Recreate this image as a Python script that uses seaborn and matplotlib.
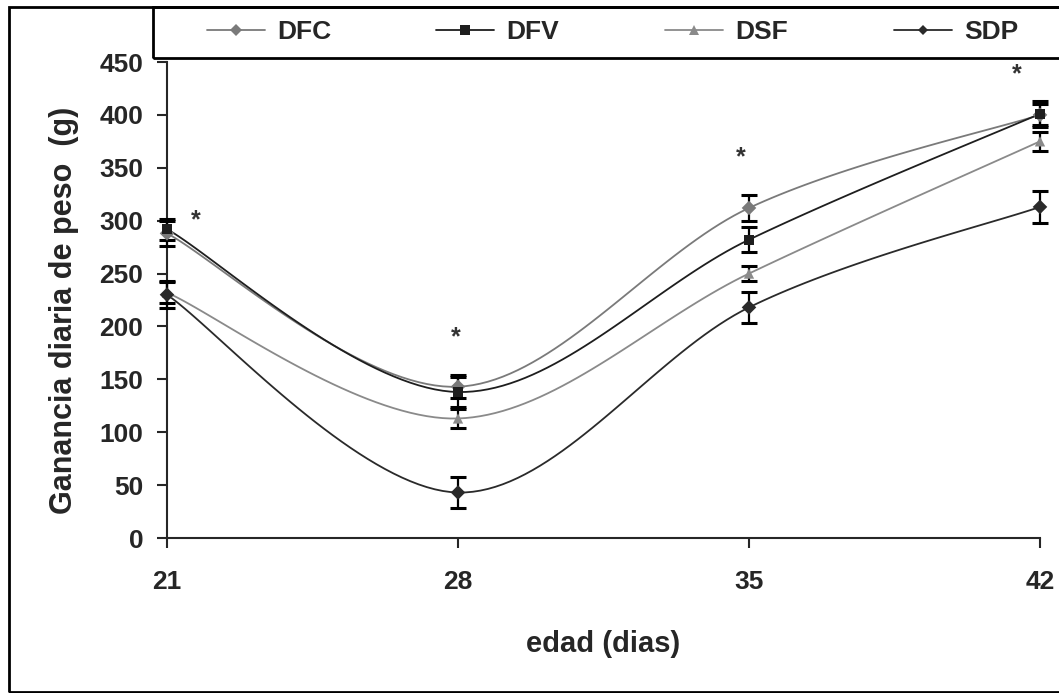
import numpy as np
import pandas as pd
import seaborn as sns
import matplotlib.pyplot as plt
from matplotlib.lines import Line2D
from matplotlib.patches import Rectangle

# data
edad = [21, 28, 35, 42]
grupos = ["DFC", "DFV", "DSF", "SDP"]
dfc = [288, 143, 312, 400]
dfv = [292, 138, 282, 401]
dsf = [232, 113, 250, 375]
sdp = [230, 43, 218, 313]
dfc_err = [12, 11, 12, 10]
dfv_err = [10, 14, 12, 12]
dsf_err = [10, 9, 7, 9]
sdp_err = [13, 15, 15, 15]
star_x = [21.7, 27.95, 34.8, 41.45]
star_y = [300, 190, 360, 438]

colores = {"DFC": "#7a7a7a", "DFV": "#1e1e1e", "DSF": "#8a8a8a", "SDP": "#2a2a2a"}
marcadores = {"DFC": "D", "DFV": "s", "DSF": "^", "SDP": "D"}
tam = {"DFC": 6, "DFV": 7, "DSF": 7, "SDP": 5}

df = pd.DataFrame({
    "edad": edad * 4,
    "grupo": [g for g in grupos for _ in edad],
    "ganancia": dfc + dfv + dsf + sdp,
    "err": dfc_err + dfv_err + dsf_err + sdp_err,
})


def smooth(xs, ys, n=40):
    """Excel style smoothed line (bezier through the points)"""
    xs = np.asarray(xs, float)
    ys = np.asarray(ys, float)
    px, py = [], []
    k = len(xs)
    for i in range(k - 1):
        i0 = max(i - 1, 0)
        i3 = min(i + 2, k - 1)
        c1x = xs[i] + (xs[i + 1] - xs[i0]) / 6
        c1y = ys[i] + (ys[i + 1] - ys[i0]) / 6
        c2x = xs[i + 1] - (xs[i3] - xs[i]) / 6
        c2y = ys[i + 1] - (ys[i3] - ys[i]) / 6
        t = np.linspace(0, 1, n)
        px.append((1 - t) ** 3 * xs[i] + 3 * (1 - t) ** 2 * t * c1x + 3 * (1 - t) * t ** 2 * c2x + t ** 3 * xs[i + 1])
        py.append((1 - t) ** 3 * ys[i] + 3 * (1 - t) ** 2 * t * c1y + 3 * (1 - t) * t ** 2 * c2y + t ** 3 * ys[i + 1])
    return np.concatenate(px), np.concatenate(py)


sns.set_style("ticks")
plt.rcParams["font.family"] = ["Liberation Sans", "DejaVu Sans"]
plt.rcParams["font.weight"] = "bold"

fig = plt.figure(figsize=(10.59, 6.93), dpi=100)
ax = fig.add_axes([167 / 1059, 1 - 538 / 693, 873 / 1059, 476 / 693])

for g in grupos:
    sub = df[df["grupo"] == g]
    sx, sy = smooth(sub["edad"], sub["ganancia"])
    ax.plot(sx, sy, color=colores[g], lw=1.3, zorder=2)
    cont = ax.errorbar(sub["edad"], sub["ganancia"], yerr=sub["err"], fmt="none",
                       ecolor="black", elinewidth=1.6, capsize=5.5, capthick=2.2, zorder=3)
    for art in cont.get_children():
        art.set_clip_on(False)

sns.scatterplot(data=df, x="edad", y="ganancia", hue="grupo", style="grupo",
                palette=colores, markers=marcadores, s=55, edgecolor=None,
                linewidth=0, legend=False, ax=ax, zorder=4)
for coll in ax.collections:
    coll.set_clip_on(False)

for x, y in zip(star_x, star_y):
    ax.text(x, y, "*", ha="center", va="center", fontsize=18, color="#333333")

ax.set_xlim(21, 42)
ax.set_ylim(0, 450)
ax.set_xticks(edad)
ax.set_yticks(range(0, 451, 50))
ax.tick_params(axis="both", labelsize=19, width=1.5, length=7, direction="out")
ax.tick_params(axis="x", pad=16)
ax.tick_params(axis="y", pad=10)
for lab in ax.get_xticklabels() + ax.get_yticklabels():
    lab.set_fontweight("bold")
ax.set_xlabel("edad (dias)", fontsize=21, fontweight="bold", labelpad=26)
ax.set_ylabel("Ganancia diaria de peso  (g)", fontsize=22, fontweight="bold")
ax.yaxis.set_label_coords(-0.118, 0.479)
ax.yaxis.label.set_va("center")
ax.yaxis.label.set_ha("center")
sns.despine(ax=ax, top=True, right=True)
ax.spines["left"].set_linewidth(1.5)
ax.spines["bottom"].set_linewidth(1.5)

# legend box across the top, one entry every ~229 px
for i, g in enumerate(grupos):
    h = Line2D([0], [0], color=colores[g], lw=1.3, marker=marcadores[g],
               markersize=tam[g], markeredgewidth=0)
    fig.legend([h], [g], loc="center left",
               bbox_to_anchor=((207 + 229 * i) / 1059, 1 - 32 / 693),
               frameon=False, handlelength=2.2, handletextpad=0.45, borderaxespad=0,
               borderpad=0, prop={"weight": "bold", "size": 19})
fig.patches.append(Rectangle((153 / 1059, 1 - 58 / 693), 910 / 1059, 51 / 693,
                             transform=fig.transFigure, fill=False, lw=2, ec="black"))
fig.patches.append(Rectangle((9 / 1059, 1 / 693), 1055 / 1059, 685 / 693,
                             transform=fig.transFigure, fill=False, lw=2, ec="black"))

fig.savefig("out.png", dpi=100)
